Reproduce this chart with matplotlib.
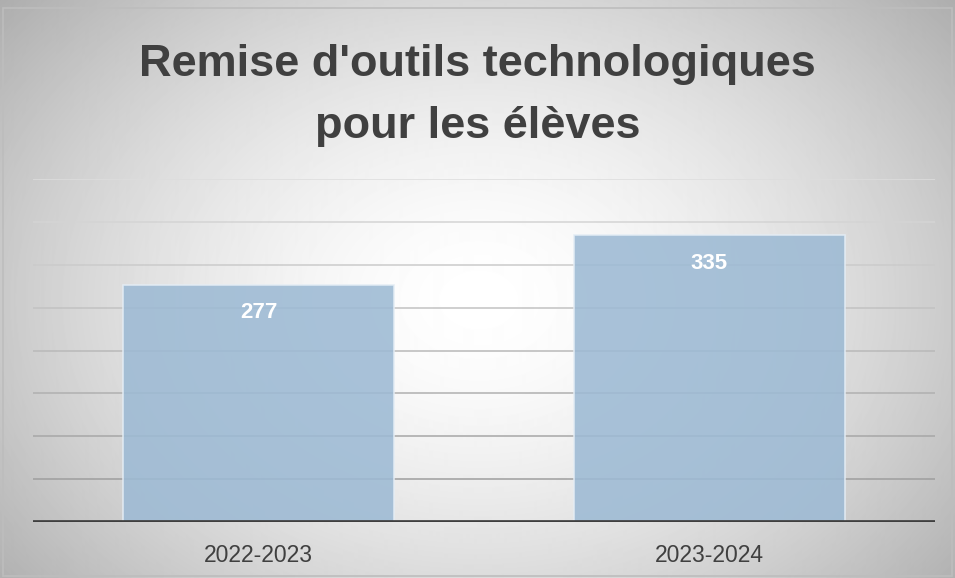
import numpy as np
import matplotlib

matplotlib.use("Agg")
import matplotlib.pyplot as plt
from matplotlib.patches import Rectangle

# data
years = ["2022-2023", "2023-2024"]
devices = [277, 335]
y_ticks = [0, 50, 100, 150, 200, 250, 300, 350, 400]

TITLE = "Remise d'outils technologiques\npour les élèves"
TEXT_COLOR = "#404040"
BAR_COLOR = "#9dbad4"

plt.rcParams["font.family"] = ["Liberation Sans", "DejaVu Sans"]

fig = plt.figure(figsize=(9.55, 5.78), dpi=100)

# radial gradient background
bg = fig.add_axes([0, 0, 1, 1], zorder=-10)
h, w = 578, 955
yy, xx = np.mgrid[0:h, 0:w]
r = np.sqrt(((xx - 478) / 560.0) ** 2 + ((yy - 300) / 420.0) ** 2)
shade = 1.0 - 0.27 * np.clip(r, 0, 1.2) ** 1.6
bg.imshow(shade, cmap="gray", vmin=0, vmax=1, aspect="auto",
          extent=[0, 1, 0, 1], interpolation="bilinear")
bg.add_patch(Rectangle((0.003, 0.004), 0.994, 0.982, fill=False,
                       edgecolor="#bdbdbd", linewidth=1.2,
                       transform=bg.transAxes))
bg.set_xlim(0, 1)
bg.set_ylim(0, 1)
bg.axis("off")

ax = fig.add_axes([0.0346, 0.0969, 0.9444, 0.5931])
ax.patch.set_alpha(0)

x = np.arange(len(years))
# gridlines fade out towards the top
for i, t in enumerate(y_ticks[1:]):
    g = 0.62 + 0.035 * i
    ax.axhline(t, color=(g, g, g), linewidth=1.1, zorder=1)

bars = ax.bar(x, devices, width=0.6, color=BAR_COLOR, alpha=0.88,
              edgecolor="#e4edf5", linewidth=1.2, zorder=2)
for rect, v in zip(bars, devices):
    ax.text(rect.get_x() + rect.get_width() / 2, v - 33, str(v),
            ha="center", va="center", color="white",
            fontsize=16, fontweight="bold", zorder=3)

ax.axhline(0, color="#3f3f3f", linewidth=3.4, zorder=4)

ax.set_xlim(-0.5, 1.5)
ax.set_ylim(0, 400)
ax.set_xticks(x)
ax.set_xticklabels(years, fontsize=16.5, color=TEXT_COLOR)
ax.tick_params(axis="x", length=0, pad=16)
ax.set_yticks([])
for s in ax.spines.values():
    s.set_visible(False)

fig.text(0.5, 0.835, TITLE, ha="center", va="center", fontsize=32.5,
         fontweight="bold", color=TEXT_COLOR, linespacing=1.66)

fig.savefig("out.png", dpi=100)
plt.close(fig)
